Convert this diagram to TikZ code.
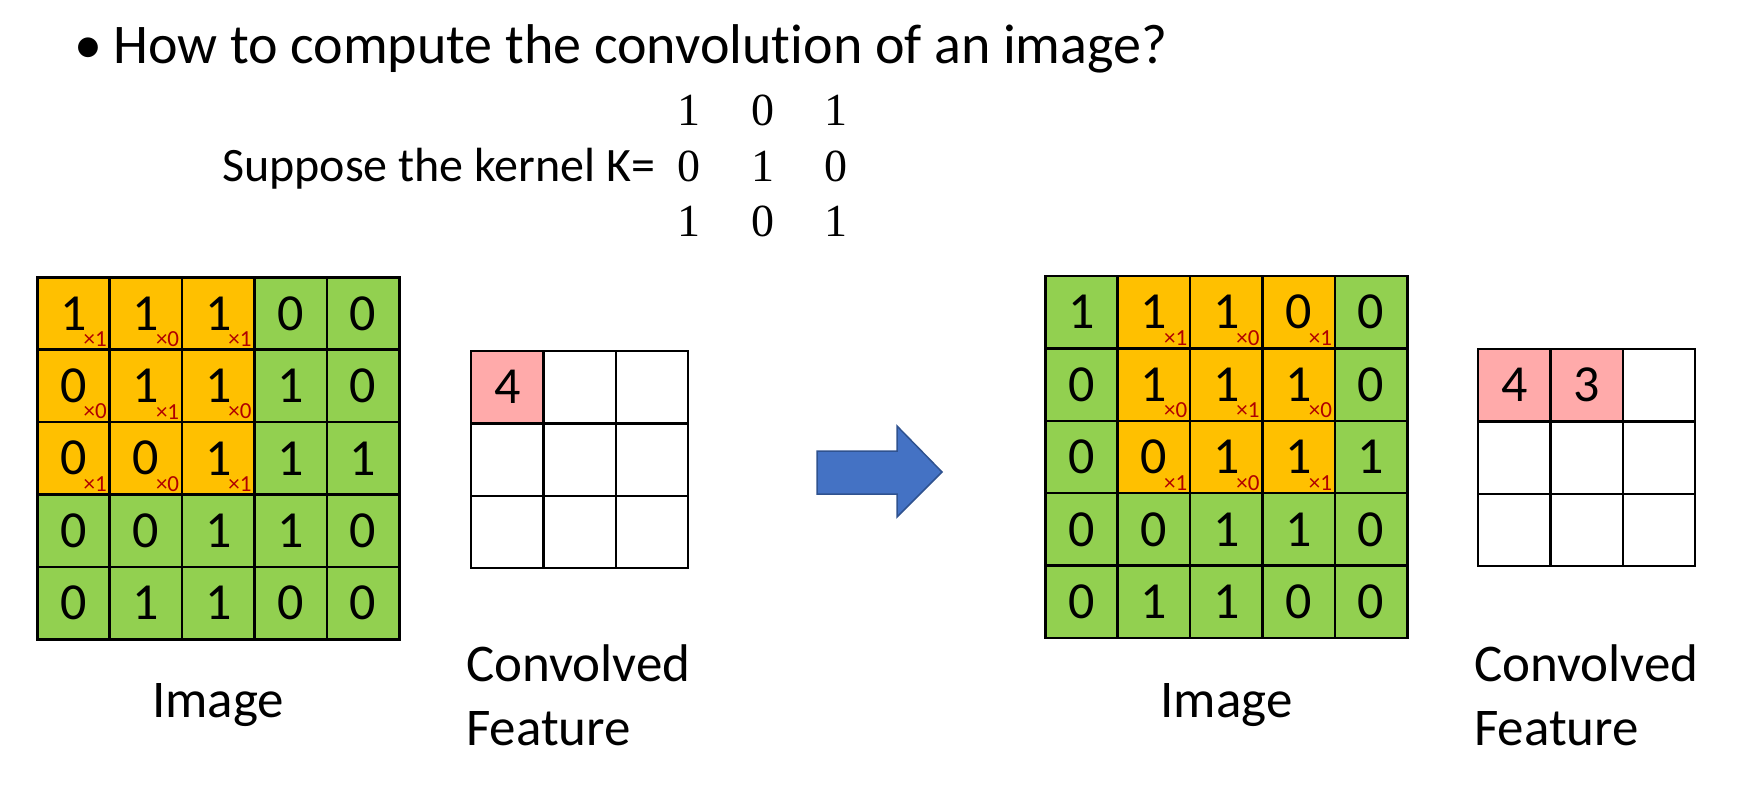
\documentclass[tikz,border=0pt]{standalone}
\usepackage{fontspec}
\setsansfont{Carlito}[Ligatures=NoCommon]
\newfontfamily\kernfont{Liberation Serif}
\usepackage{tikz}
\usetikzlibrary{positioning}
\definecolor{winOrange}{HTML}{FFC000}
\definecolor{imgGreen}{HTML}{92D050}
\definecolor{featPink}{HTML}{FFAAAA}
\definecolor{weightRed}{HTML}{B00000}
\definecolor{arrowBlue}{HTML}{4472C4}
\definecolor{arrowEdge}{HTML}{2F528F}

\tikzset{
  cell/.style={draw=black, line width=2.5pt, minimum size=72.4pt, inner sep=0pt},
  digit/.style={inner sep=0pt, font=\fontsize{52}{62}\sffamily},
  weight/.style={inner sep=0pt, text=weightRed, font=\fontsize{23}{25}\sffamily},
  caption/.style={inner sep=0pt, align=left, font=\fontsize{53}{64}\sffamily},
  kdigit/.style={inner sep=0pt, font=\fontsize{46}{56}\kernfont}
}

\begin{document}
\begin{tikzpicture}[x=1pt,y=-1pt]
\useasboundingbox (0,0) rectangle (1743,789);

\def\image{{1,1,1,0,0},{0,1,1,1,0},{0,0,1,1,1},{0,0,1,1,0},{0,1,1,0,0}}
\def\kernel{{1,0,1},{0,1,0},{1,0,1}}
\def\featOut{{4,3}}
\def\cSize{72.4}

% title and kernel
\node[inner sep=0pt, font=\fontsize{56}{66}\sffamily, anchor=base west] (title) at (113,64) {How to compute the convolution of an image?};
\node[inner sep=0pt, font=\fontsize{56}{66}\sffamily, anchor=base] (bullet) at (88,64) {\textbullet};
\node[inner sep=0pt, font=\fontsize{48}{58}\sffamily, anchor=base west] (suppose) at (222,181) {Suppose the kernel K=};
\foreach \row [count=\ri] in \kernel
  \foreach \v [count=\ci] in \row
    \node[kdigit, anchor=base] (K-\ri-\ci) at ({689+(\ci-1)*73.5},{125.5+(\ri-1)*55.5}) {\v};

% draw the image grids, window in orange
\foreach \gx/\gy/\off/\gname in {37.3/277.3/0/L, 1045.3/276/1/R}
{
  \foreach \row [count=\ri] in \image
  {
    \foreach \v [count=\ci] in \row
    {
      \pgfmathtruncatemacro\wc{\ci-\off}
      \pgfmathtruncatemacro\inwin{(\ri<=3)&&(\wc>=1)&&(\wc<=3)}
      \pgfmathtruncatemacro\w{1-mod(\ri+\wc+2,2)}
      \ifnum\inwin=1 \def\cfill{winOrange}\else\def\cfill{imgGreen}\fi
      \node[cell, fill=\cfill] (\gname-\ri-\ci) at ({\gx+(\ci-0.5)*\cSize},{\gy+(\ri-0.5)*\cSize}) {};
      \node[digit] (\gname-d-\ri-\ci) at (\gname-\ri-\ci) {\v};
      \ifnum\inwin=1
        \node[weight, anchor=south east] (\gname-w-\ri-\ci) at ([xshift=-4pt,yshift=4pt]\gname-\ri-\ci.south east) {×\w};
      \fi
    }
  }
}

% draw the convolved features
\foreach \fx/\fy/\gname/\nout in {471/351/LF/1, 1478/349/RF/2}
{
  \foreach \ri in {1,2,3}
  {
    \foreach \ci in {1,2,3}
    {
      \pgfmathtruncatemacro\done{(\ri==1)&&(\ci<=\nout)}
      \ifnum\done=1
        \pgfmathtruncatemacro\fv{\featOut[\ci-1]}
        \node[cell, fill=featPink] (\gname-\ri-\ci) at ({\fx+(\ci-0.5)*\cSize},{\fy+(\ri-0.5)*\cSize}) {};
        \node[digit] (\gname-d-\ri-\ci) at (\gname-\ri-\ci) {\fv};
      \else
        \node[cell, fill=white] (\gname-\ri-\ci) at ({\fx+(\ci-0.5)*\cSize},{\fy+(\ri-0.5)*\cSize}) {};
      \fi
    }
  }
}

% captions
\node[caption, anchor=base] (imgL) at (218,717) {Image};
\node[caption, anchor=base] (imgR) at (1226.5,717) {Image};
\node[caption, anchor=base west] (featL) at (466,745) {Convolved\\Feature};
\node[caption, anchor=base west] (featR) at (1474,745) {Convolved\\Feature};

% the step arrow
\filldraw[fill=arrowBlue, draw=arrowEdge, line width=1.5pt]
  (817,451) -- (897,451) -- (897,426) -- (942,472) -- (897,517) -- (897,494) -- (817,494) -- cycle;

\end{tikzpicture}
\end{document}
